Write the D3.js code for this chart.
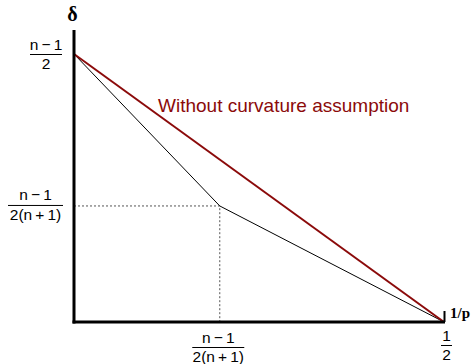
<!DOCTYPE html>
<html><head><meta charset="utf-8">
<script src="https://cdn.jsdelivr.net/npm/d3@7"></script>
<style>body{margin:0;background:#fff}svg{display:block}</style>
</head><body>
<svg id="c" width="473" height="364"></svg>
<script>
// schematic values (x = 1/p, y = delta, normalized)
const xMax = 0.5;
const kinkX = 0.197;
const yTop = 1.0;
const kinkY = 0.433;
const redLine = [[0, yTop], [xMax, 0]];
const blackLine = [[0, yTop], [kinkX, kinkY], [xMax, 0]];
const redLabel = "Without curvature assumption";
const T = "\u2009";
const yTickLabels = [{num: "n" + T + "\u2212" + T + "1", den: "2", v: yTop}, {num: "n" + T + "\u2212" + T + "1", den: "2(n" + T + "+" + T + "1)", v: kinkY}];
const xTickLabels = [{num: "n" + T + "\u2212" + T + "1", den: "2(n" + T + "+" + T + "1)", v: kinkX}, {num: "1", den: "2", v: xMax}];

const svg = d3.select("#c");
const x = d3.scaleLinear().domain([0, 0.5]).range([74, 444]);
const y = d3.scaleLinear().domain([0, 1]).range([322, 54]);
const font = "Liberation Sans, Arial, Helvetica, sans-serif";
const red = "#8b0a0a";

// dotted guides
svg.append("path").attr("d", d3.line()([[x(0), y(kinkY)], [x(kinkX), y(kinkY)], [x(kinkX), y(0)]]))
  .attr("fill", "none").attr("stroke", "#555").attr("stroke-width", 1).attr("stroke-dasharray", "2,2");

// lines
const line = d3.line().x(d => x(d[0])).y(d => y(d[1]));
svg.append("path").attr("d", line(blackLine)).attr("fill", "none").attr("stroke", "#000").attr("stroke-width", 1);
svg.append("path").attr("d", line(redLine)).attr("fill", "none").attr("stroke", red).attr("stroke-width", 2);

// axes
svg.append("line").attr("x1", x(0)).attr("x2", x(0)).attr("y1", y(1.09)).attr("y2", y(0) + 1.5)
  .attr("stroke", "#000").attr("stroke-width", 3);
svg.append("line").attr("x1", x(0) - 1.5).attr("x2", x(xMax) + 1).attr("y1", y(0)).attr("y2", y(0))
  .attr("stroke", "#000").attr("stroke-width", 3);
svg.append("line").attr("x1", x(xMax) + 0.5).attr("x2", x(xMax) + 0.5).attr("y1", y(0) - 11).attr("y2", y(0))
  .attr("stroke", "#000").attr("stroke-width", 2);

// axis titles
svg.append("text").attr("x", x(0) - 1.5).attr("y", 21).attr("text-anchor", "middle")
  .attr("font-family", "Liberation Serif, Times New Roman, serif").attr("font-weight", "bold").attr("font-size", 20).text("\u03b4");
svg.append("text").attr("x", 450).attr("y", 318)
  .attr("font-family", "Liberation Serif, Times New Roman, serif").attr("font-weight", "bold").attr("font-size", 15).text("1/p");

// fraction helper
function frac(cx, barY, t, barW) {
  const g = svg.append("g").attr("font-family", font).attr("font-size", 15.5).attr("text-anchor", "middle").attr("fill", "#000");
  g.append("text").attr("x", cx).attr("y", barY - 4.5).text(t.num);
  g.append("text").attr("x", cx).attr("y", barY + 15).text(t.den);
  g.append("line").attr("x1", cx - barW / 2).attr("x2", cx + barW / 2).attr("y1", barY + 0.5).attr("y2", barY + 0.5)
    .attr("stroke", "#000").attr("stroke-width", 1);
}
frac(46, y(yTickLabels[0].v), yTickLabels[0], 32);
frac(35.5, y(yTickLabels[1].v) - 1, yTickLabels[1], 55);
frac(x(xTickLabels[0].v) - 1.5, 347, xTickLabels[0], 52);
frac(x(xTickLabels[1].v) + 2.5, 345, xTickLabels[1], 11);

// red label
svg.append("text").attr("x", 158).attr("y", 112).attr("font-family", font).attr("font-size", 19)
  .attr("fill", red).text(redLabel);
</script>
</body></html>
